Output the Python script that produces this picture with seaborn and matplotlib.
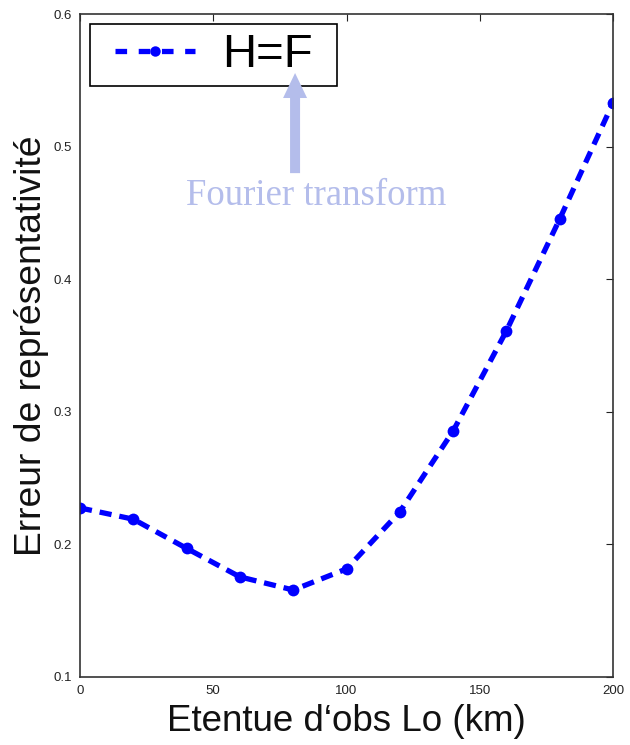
import matplotlib
matplotlib.use("Agg")
import matplotlib.pyplot as plt
from matplotlib.patches import Rectangle
import seaborn as sns
import pandas as pd

x_km = [0, 20, 40, 60, 80, 100, 120, 140, 160, 180, 200]
err = [0.2275, 0.219, 0.197, 0.1755, 0.1656, 0.1815, 0.2245, 0.2855, 0.361, 0.4454, 0.533]
series_label = "H=F"
x_ticks = [0, 50, 100, 150, 200]
y_ticks = [0.1, 0.2, 0.3, 0.4, 0.5, 0.6]

sns.set_style("white")
plt.rcParams['font.family'] = ['Liberation Sans', 'DejaVu Sans']
plt.rcParams['text.color'] = '#111111'
plt.rcParams['axes.labelcolor'] = '#111111'

fig = plt.figure(figsize=(6.3, 7.45), dpi=100)
ax = fig.add_axes([0.127, 0.0913, 0.846, 0.8899])

df = pd.DataFrame({"x": x_km, "y": err})
sns.lineplot(data=df, x="x", y="y", ax=ax, color=(0, 0, 1), linestyle="--",
             linewidth=3.8, marker="o", markersize=8.5, markeredgewidth=0,
             label=series_label, dashes=False)
for l in ax.lines:
    l.set_dashes([2.3, 1.5])
    l.set_dash_capstyle("butt")

ax.set_xlim(0, 200)
ax.set_ylim(0.1, 0.6)
ax.set_xticks(x_ticks)
ax.set_yticks(y_ticks)
ax.set_xticklabels([str(t) for t in x_ticks])
ax.set_yticklabels([f"{t:g}" for t in y_ticks])
ax.tick_params(direction="in", top=True, right=True, length=5, width=0.8,
               labelsize=9.5, colors="#222222", pad=6)
for sp in ax.spines.values():
    sp.set_visible(True)
    sp.set_color("#333333")
    sp.set_linewidth(1.2)

ax.set_xlabel("Etentue d\u2018obs Lo (km)", fontsize=26.5, labelpad=5)
ax.set_ylabel("Erreur de représentativité", fontsize=26.8, labelpad=3)

# legend box (frame drawn separately to match reference padding)
ax.add_patch(Rectangle((0.0188, 0.8914), 0.4634, 0.0936, transform=ax.transAxes,
                       facecolor="white", edgecolor="black", linewidth=1.2,
                       zorder=4))
leg = ax.legend(loc="center left", bbox_to_anchor=(0.0657, 0.938), fontsize=34,
                frameon=False, handlelength=1.7, borderaxespad=0, borderpad=0,
                handletextpad=0.57)
leg.set_zorder(5)
for t in leg.get_texts():
    t.set_color("black")
for h in leg.get_lines():
    h.set_dashes([2.2, 2.2])
    h.set_dash_capstyle("butt")
    h.set_markersize(7.5)

ann = ax.annotate("", xy=(80.7, 0.5555), xytext=(80.7, 0.48),
                  arrowprops=dict(arrowstyle="simple,head_length=1.0,head_width=0.96,tail_width=0.4",
                                  color="#b4bdeb", lw=0, shrinkA=0, shrinkB=0,
                                  mutation_scale=18))
ann.set_zorder(10)
ax.text(88.5, 0.463, "Fourier transform", fontsize=26.5, color="#b4bdeb",
        family=["Liberation Serif", "DejaVu Serif"], ha="center", va="center",
        zorder=10)

fig.savefig("out.png", dpi=100)
